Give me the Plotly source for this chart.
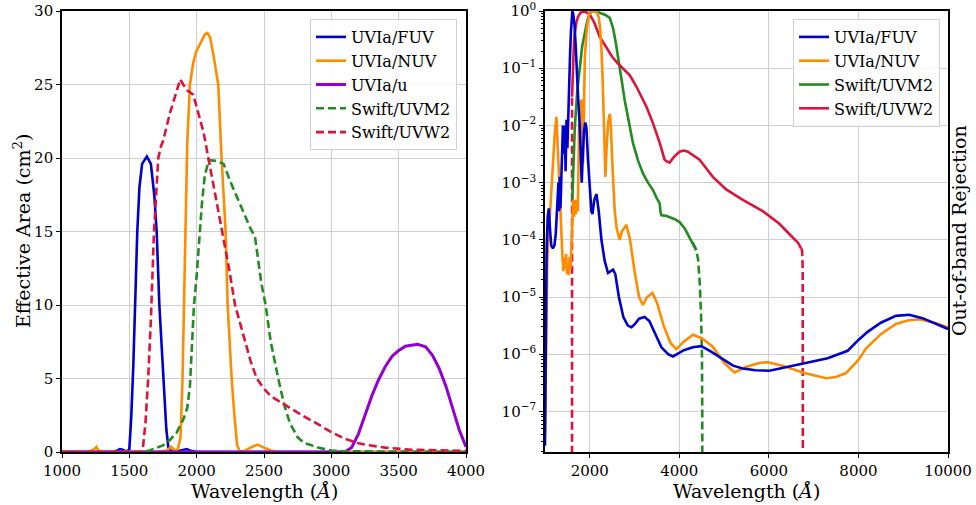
import plotly.graph_objects as go

# ---------------- Left panel: effective area (cm^2) ----------------
fuv_wl = [1000, 1380, 1410, 1430, 1450, 1480, 1500, 1515, 1530, 1542, 1559, 1575, 1595, 1630, 1660,
          1685, 1703, 1723, 1752, 1775, 1790, 1810, 1860, 1900, 1925, 1950, 2000, 4000]
fuv_area = [0, 0, 0.1, 0.2, 0.15, 0.02, 0.2, 2.5, 6, 10, 15, 18, 19.6, 20.1, 19.6,
            17.5, 15, 10, 5, 1.5, 0.3, 0.05, 0.05, 0.15, 0.2, 0.1, 0, 0]

nuv_wl = [1000, 1200, 1240, 1255, 1270, 1300, 1700, 1780, 1810, 1840, 1860, 1880, 1895, 1905, 1915,
          1930, 1950, 1975, 1995, 2030, 2060, 2080, 2100, 2125, 2145, 2160, 2185, 2200, 2215, 2230,
          2245, 2260, 2280, 2300, 2320, 2350, 2400, 2450, 2500, 2550, 2600, 4000]
nuv_area = [0, 0.02, 0.2, 0.35, 0.1, 0.02, 0.02, 0.1, 0.35, 0.1, 0.2, 1, 5, 10, 15,
            21, 25, 26.5, 27.2, 27.9, 28.4, 28.5, 28.2, 27, 25.8, 25, 20, 17, 15, 10,
            7, 5, 2.5, 0.5, 0.05, 0.05, 0.3, 0.5, 0.3, 0.1, 0.02, 0]

u_wl = [1000, 3100, 3150, 3200, 3250, 3300, 3350, 3400, 3450, 3500, 3550, 3600, 3640, 3700,
        3750, 3800, 3850, 3900, 3950, 4000]
u_area = [0, 0, 0.3, 1.2, 2.5, 3.8, 4.9, 5.8, 6.5, 6.9, 7.2, 7.3, 7.33, 7.15,
          6.6, 5.7, 4.5, 3.0, 1.5, 0.35]

uvm2_wl = [1000, 1600, 1650, 1700, 1750, 1800, 1850, 1900, 1930, 1950, 1965, 1980, 2000, 2020,
           2040, 2060, 2090, 2150, 2200, 2250, 2300, 2350, 2400, 2433, 2450, 2480, 2512, 2550,
           2606, 2650, 2693, 2750, 2800, 2841, 2900, 3000, 3100, 4000]
uvm2_area = [0, 0, 0.1, 0.25, 0.45, 0.8, 1.3, 2.2, 3.0, 4.5, 7, 10, 12, 14.5,
             17, 18.8, 19.85, 19.8, 19.6, 18.4, 17.3, 16.2, 15.2, 14.65, 13.5, 11.5, 10, 7.5,
             5, 3.2, 1.95, 1.0, 0.6, 0.5, 0.3, 0.1, 0.05, 0.0]

uvw2_wl = [1000, 1580, 1600, 1620, 1640, 1660, 1683, 1700, 1715, 1735, 1752, 1800, 1850, 1878,
           1900, 1930, 1975, 2000, 2050, 2087, 2150, 2193, 2240, 2285, 2350, 2400, 2446, 2500,
           2550, 2619, 2717, 2800, 2900, 2990, 3100, 3200, 3263, 3400, 3600, 3800, 4000]
uvw2_area = [0, 0, 0.2, 2, 5, 9, 15, 18, 20, 20.8, 21.2, 23, 24.6, 25.35,
             25, 24.6, 24.3, 23.5, 21.8, 20, 17, 15, 12.5, 10, 7.8, 6.2, 5, 4.3,
             3.8, 3.4, 2.86, 2.4, 1.9, 1.4, 0.9, 0.6, 0.48, 0.3, 0.15, 0.1, 0.08]

# ---------------- Right panel: out-of-band rejection (log10 values) ----------------
fuv_rej_wl = [1000, 1015, 1035, 1060, 1085, 1110, 1140, 1175, 1210, 1240, 1265, 1285, 1300, 1315,
              1330, 1345, 1365, 1385, 1400, 1420, 1440, 1460, 1480, 1500, 1520, 1540, 1560, 1580,
              1598, 1612, 1630, 1660, 1685, 1710, 1745, 1776, 1800, 1820, 1840, 1870, 1900, 1925,
              1960, 2000, 2036, 2060, 2100, 2150, 2200, 2260, 2333, 2407, 2460, 2520, 2570, 2650,
              2750, 2850, 2930, 3000, 3100, 3225, 3330, 3450, 3600, 3750, 3857, 3950, 4100, 4300,
              4490, 4700, 5000, 5200, 5418, 5700, 6012, 6400, 6793, 7313, 7759, 8000, 8205, 8500,
              8837, 9134, 9431, 10000]
fuv_rej_log10 = [-7.6, -5.5, -4.2, -3.6, -3.45, -3.8, -4.1, -4.15, -4.1, -3.9, -3.5, -3.3, -3.0, -3.5,
                 -2.9, -3.45, -2.7, -2.3, -2.0, -2.5, -2.0, -2.8, -1.9, -2.4, -1.7, -1.2, -0.75, -0.35,
                 -0.05, 0, -0.05, -0.25, -0.6, -1.1, -1.6, -2.0, -2.6, -3.0, -2.6, -2.1, -1.95, -2.05,
                 -2.6, -3.2, -3.5, -3.55, -3.3, -3.2, -3.5, -4.0, -4.37, -4.58, -4.55, -4.52, -4.6, -5.0,
                 -5.35, -5.5, -5.53, -5.48, -5.38, -5.35, -5.42, -5.62, -5.88, -6.0, -6.04, -6.0, -5.93, -5.88,
                 -5.86, -5.95, -6.1, -6.2, -6.25, -6.28, -6.29, -6.22, -6.16, -6.07, -5.94, -5.75, -5.61, -5.45,
                 -5.33, -5.31, -5.37, -5.56]

nuv_rej_wl = [1000, 1015, 1030, 1050, 1070, 1085, 1110, 1144, 1181, 1218, 1256, 1268, 1293, 1310,
              1330, 1350, 1370, 1390, 1410, 1430, 1450, 1470, 1490, 1510, 1530, 1550, 1570, 1590,
              1610, 1630, 1650, 1670, 1690, 1710, 1735, 1760, 1790, 1820, 1850, 1865, 1890, 1925,
              1960, 2000, 2080, 2150, 2200, 2230, 2260, 2290, 2320, 2349, 2375, 2410, 2445, 2470,
              2500, 2530, 2557, 2600, 2668, 2720, 2817, 2900, 3000, 3100, 3188, 3280, 3400, 3500,
              3650, 3800, 3932, 4100, 4302, 4500, 4748, 5000, 5232, 5500, 5800, 5975, 6300, 6793,
              7276, 7500, 7722, 8000, 8168, 8500, 8837, 9100, 9357, 9700, 10000]
nuv_rej_log10 = [-7.4, -6.3, -5.2, -4.4, -4.1, -3.9, -3.5, -3.07, -2.55, -2.14, -1.85, -2.1, -2.45, -2.9,
                 -3.3, -3.7, -4.1, -4.3, -4.55, -4.3, -4.5, -4.25, -4.6, -4.4, -4.62, -4.3, -4.5, -4.0,
                 -3.4, -3.3, -3.6, -3.3, -3.55, -3.3, -3.5, -2.0, -1.6, -1.55, -2.66, -1.6, -0.8, -0.4,
                 -0.15, -0.02, 0, -0.01, -0.1, -0.3, -0.65, -1.25, -2.0, -2.9, -2.4, -1.95, -1.8, -2.0,
                 -2.6, -3.2, -3.5, -3.8, -4.0, -3.85, -3.74, -4.0, -4.55, -5.0, -5.14, -5.0, -4.93, -5.1,
                 -5.5, -5.8, -5.91, -5.78, -5.66, -5.72, -5.87, -6.15, -6.32, -6.22, -6.15, -6.14, -6.2, -6.33,
                 -6.42, -6.4, -6.33, -6.1, -5.9, -5.65, -5.47, -5.41, -5.39, -5.45, -5.53]

uvm2_rej_wl = [1610, 1640, 1665, 1720, 1776, 1830, 1888, 1950, 2000, 2070, 2150, 2250, 2350, 2445,
               2520, 2580, 2630, 2700, 2780, 2870, 2965, 3080, 3188, 3300, 3411, 3500, 3560, 3580,
               3600, 3700, 3783, 3900, 4005, 4120, 4228, 4320, 4378]
uvm2_rej_log10 = [-3.3, -2.6, -2.05, -1.4, -0.97, -0.62, -0.39, -0.15, -0.04, 0, -0.01, -0.04, -0.07, -0.12,
                  -0.3, -0.55, -0.78, -1.15, -1.56, -1.95, -2.31, -2.62, -2.84, -3.0, -3.13, -3.28, -3.36, -3.52,
                  -3.57, -3.58, -3.6, -3.64, -3.69, -3.8, -3.96, -4.08, -4.18]
uvm2_cut_wl = [4300, 4378, 4420, 4455, 4485, 4505, 4512, 4514]
uvm2_cut_log10 = [-4.05, -4.18, -4.35, -4.75, -5.3, -6.0, -7.0, -9.0]

uvw2_rej_wl = [1604, 1615, 1627, 1645, 1664, 1700, 1738, 1790, 1850, 1920, 1999, 2100, 2221, 2371,
               2500, 2630, 2750, 2891, 3040, 3188, 3263, 3411, 3560, 3671, 3720, 3783, 3880, 4006,
               4100, 4191, 4300, 4451, 4600, 4748, 5046, 5417, 5863, 6235, 6532, 6650, 6719]
uvw2_rej_log10 = [-1.5, -1.2, -0.9, -0.6, -0.39, -0.2, -0.1, -0.03, -0.01, -0.02, -0.06, -0.2, -0.45, -0.65,
                  -0.8, -0.92, -1.02, -1.12, -1.32, -1.55, -1.67, -1.96, -2.3, -2.6, -2.63, -2.65, -2.55, -2.46,
                  -2.44, -2.46, -2.52, -2.6, -2.75, -2.9, -3.12, -3.3, -3.5, -3.72, -3.96, -4.05, -4.15]
uvw2_cut_lo_wl = [1604, 1604]
uvw2_cut_lo_log10 = [-9.0, -1.5]
uvw2_cut_hi_wl = [6719, 6741, 6755, 6758, 6760]
uvw2_cut_hi_log10 = [-4.15, -4.18, -4.5, -5.5, -9.0]

# ---------------- Tick labels ----------------
left_x_ticks = [1000, 1500, 2000, 2500, 3000, 3500, 4000]
left_y_ticks = [0, 5, 10, 15, 20, 25, 30]
right_x_ticks = [2000, 4000, 6000, 8000, 10000]
right_x_text = ["2000", "4000", "6000", "8000", "10000"]
right_y_exps = [0, -1, -2, -3, -4, -5, -6, -7]
right_y_text = ["10<sup>0</sup>", "10<sup>\u22121</sup>", "10<sup>\u22122</sup>", "10<sup>\u22123</sup>",
                "10<sup>\u22124</sup>", "10<sup>\u22125</sup>", "10<sup>\u22126</sup>", "10<sup>\u22127</sup>"]

C_FUV = "#0000cd"
C_NUV = "#ff8c00"
C_U = "#9400d3"
C_M2 = "#228b22"
C_W2 = "#dc143c"
LW = 2.6
DASH = "8px,4px"
FONT = "DejaVu Serif"


def pw(vals):
    return [10 ** v for v in vals]


fig = go.Figure()

# Left panel
fig.add_trace(go.Scatter(x=fuv_wl, y=fuv_area, mode="lines", name="UVIa/FUV",
                         line=dict(color=C_FUV, width=LW), xaxis="x", yaxis="y", legend="legend"))
fig.add_trace(go.Scatter(x=nuv_wl, y=nuv_area, mode="lines", name="UVIa/NUV",
                         line=dict(color=C_NUV, width=LW), xaxis="x", yaxis="y", legend="legend"))
fig.add_trace(go.Scatter(x=u_wl, y=u_area, mode="lines", name="UVIa/u",
                         line=dict(color=C_U, width=LW + 0.4), xaxis="x", yaxis="y", legend="legend"))
fig.add_trace(go.Scatter(x=uvm2_wl, y=uvm2_area, mode="lines", name="Swift/UVM2",
                         line=dict(color=C_M2, width=LW, dash=DASH), xaxis="x", yaxis="y", legend="legend"))
fig.add_trace(go.Scatter(x=uvw2_wl, y=uvw2_area, mode="lines", name="Swift/UVW2",
                         line=dict(color=C_W2, width=LW, dash=DASH), xaxis="x", yaxis="y", legend="legend"))

# Right panel: dashed cut-off segments first
fig.add_trace(go.Scatter(x=uvm2_cut_wl, y=pw(uvm2_cut_log10), mode="lines", showlegend=False,
                         line=dict(color=C_M2, width=LW, dash=DASH), xaxis="x2", yaxis="y2"))
fig.add_trace(go.Scatter(x=uvw2_cut_lo_wl, y=pw(uvw2_cut_lo_log10), mode="lines", showlegend=False,
                         line=dict(color=C_W2, width=LW, dash=DASH), xaxis="x2", yaxis="y2"))
fig.add_trace(go.Scatter(x=uvw2_cut_hi_wl, y=pw(uvw2_cut_hi_log10), mode="lines", showlegend=False,
                         line=dict(color=C_W2, width=LW, dash=DASH), xaxis="x2", yaxis="y2"))

fig.add_trace(go.Scatter(x=uvm2_rej_wl, y=pw(uvm2_rej_log10), mode="lines", name="Swift/UVM2",
                         line=dict(color=C_M2, width=LW), xaxis="x2", yaxis="y2", legend="legend2",
                         legendrank=3))
fig.add_trace(go.Scatter(x=uvw2_rej_wl, y=pw(uvw2_rej_log10), mode="lines", name="Swift/UVW2",
                         line=dict(color=C_W2, width=LW), xaxis="x2", yaxis="y2", legend="legend2",
                         legendrank=4))
fig.add_trace(go.Scatter(x=nuv_rej_wl, y=pw(nuv_rej_log10), mode="lines", name="UVIa/NUV",
                         line=dict(color=C_NUV, width=LW), xaxis="x2", yaxis="y2", legend="legend2",
                         legendrank=2))
fig.add_trace(go.Scatter(x=fuv_rej_wl, y=pw(fuv_rej_log10), mode="lines", name="UVIa/FUV",
                         line=dict(color=C_FUV, width=LW), xaxis="x2", yaxis="y2", legend="legend2",
                         legendrank=1))

W, H = 976, 505
L0, L1, R0, R1 = 62, 466, 545, 948
T, B = 11, 452

axis_common = dict(showline=True, linecolor="black", linewidth=1.6, mirror=True,
                   ticks="outside", ticklen=4, tickwidth=1, tickcolor="black",
                   showgrid=True, gridcolor="#cfcfcf", gridwidth=1, zeroline=False,
                   automargin=False, ticklabeloverflow="allow",
                   tickfont=dict(family=FONT, size=15, color="black"))

minor_vals = [m * 10 ** e for e in range(-8, 0) for m in range(2, 10)]

fig.update_layout(
    width=W, height=H,
    margin=dict(l=0, r=0, t=0, b=0),
    paper_bgcolor="white", plot_bgcolor="white",
    font=dict(family=FONT, color="black"),
    xaxis=dict(domain=[L0 / W, L1 / W], range=[1000, 4000], tickmode="array",
               tickvals=left_x_ticks, anchor="y", **axis_common),
    yaxis=dict(domain=[1 - B / H, 1 - T / H], range=[0, 30], tickmode="array",
               tickvals=left_y_ticks, anchor="x", **axis_common),
    xaxis2=dict(domain=[R0 / W, R1 / W], range=[1000, 10000], tickmode="array",
                tickvals=right_x_ticks, ticktext=right_x_text, anchor="y2", **axis_common),
    yaxis2=dict(domain=[1 - B / H, 1 - T / H], type="log", range=[-7.71, 0.0005], tickmode="array",
                tickvals=[10 ** e for e in right_y_exps], ticktext=right_y_text, anchor="x2",
                minor=dict(tickmode="array", tickvals=minor_vals, ticks="outside", ticklen=2,
                           tickcolor="black", tickwidth=0.8, showgrid=False),
                **axis_common),
    legend=dict(x=457 / W, y=1 - 19 / H, xanchor="right", yanchor="top",
                bgcolor="rgba(255,255,255,0.85)", bordercolor="#d0d0d0", borderwidth=1,
                font=dict(family=FONT, size=16, color="black"), tracegroupgap=0),
    legend2=dict(x=940 / W, y=1 - 19 / H, xanchor="right", yanchor="top",
                 bgcolor="rgba(255,255,255,0.85)", bordercolor="#d0d0d0", borderwidth=1,
                 font=dict(family=FONT, size=16, color="black"), tracegroupgap=0),
    annotations=[
        dict(text="Wavelength (<i>Å</i>)", x=(L0 + L1) / 2 / W, y=1 - 491 / H, xref="paper",
             yref="paper", showarrow=False, xanchor="center", yanchor="middle",
             font=dict(family=FONT, size=19)),
        dict(text="Wavelength (<i>Å</i>)", x=(R0 + R1) / 2 / W, y=1 - 491 / H, xref="paper",
             yref="paper", showarrow=False, xanchor="center", yanchor="middle",
             font=dict(family=FONT, size=19)),
        dict(text="Effective Area (cm<sup>2</sup>)", x=22 / W, y=1 - 231 / H,
             xref="paper", yref="paper", showarrow=False, textangle=-90, xanchor="center",
             yanchor="middle", font=dict(family=FONT, size=19)),
        dict(text="Out-of-band Rejection", x=959 / W, y=1 - 231 / H,
             xref="paper", yref="paper", showarrow=False, textangle=-90, xanchor="center",
             yanchor="middle", font=dict(family=FONT, size=19)),
    ],
)

# Remove the default 8px page margin so the figure sits at the window's top-left corner.
fig.write_html("out.html", config={"displayModeBar": False},
               post_script="document.body.style.margin='0';")
